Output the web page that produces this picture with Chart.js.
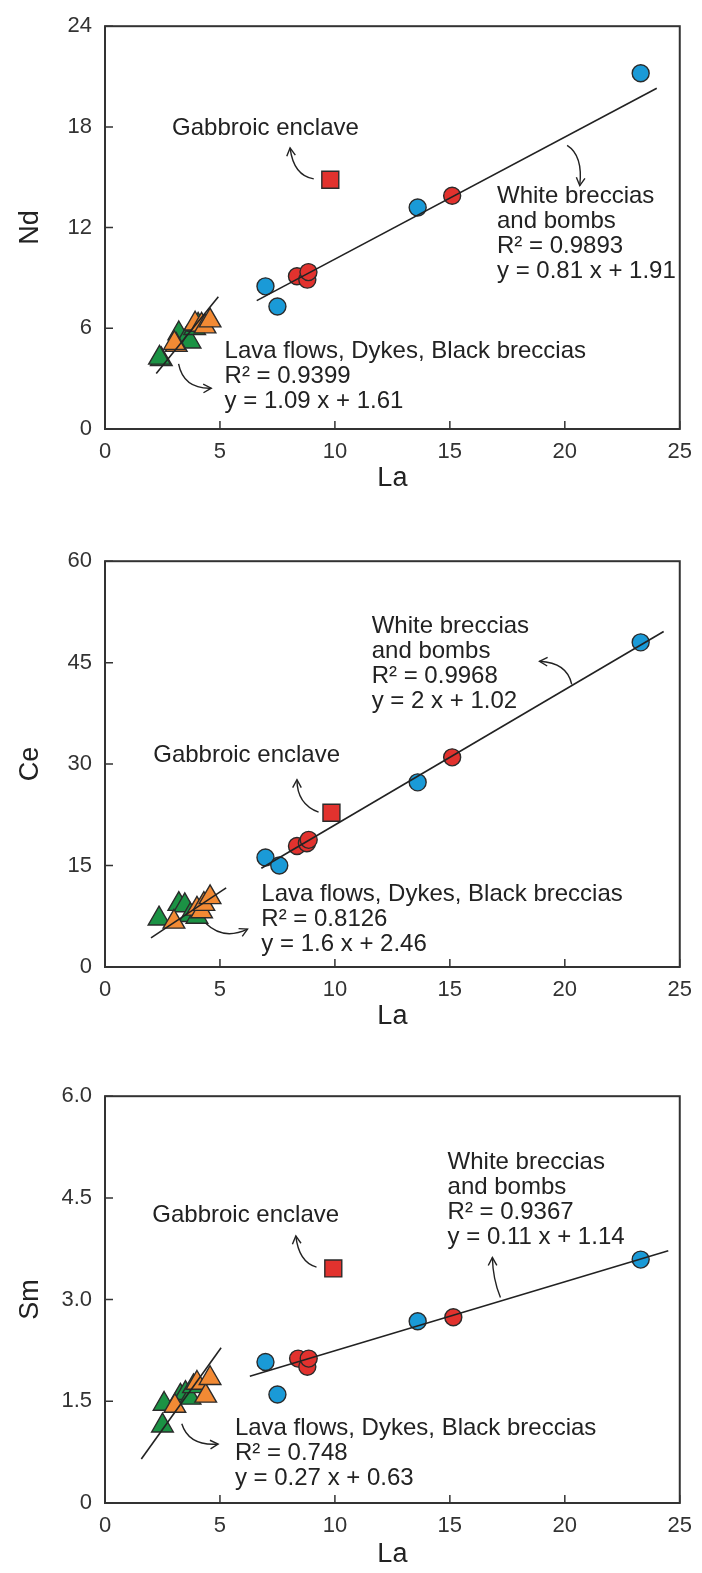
<!DOCTYPE html>
<html lang="en">
<head>
  <meta charset="UTF-8">
  <title>La vs Nd, Ce, Sm</title>
  <script src="https://cdn.jsdelivr.net/npm/chart.js"></script>
  <style>
    body { margin: 0; background: #fff; width: 702px; height: 1573px; position: relative; overflow: hidden; }
    .panel { position: absolute; left: 0; width: 702px; }
  </style>
</head>
<body>

<div class="panel" style="top:0;height:535px"><canvas id="chartNd"></canvas></div>
<div class="panel" style="top:535px;height:535px"><canvas id="chartCe"></canvas></div>
<div class="panel" style="top:1070px;height:503px"><canvas id="chartSm"></canvas></div>

<script>
  // ---- Nd vs La ----
  const ndBlueLa = [6.98, 7.5, 13.6, 23.3];
  const ndBlue = [8.5, 7.3, 13.2, 21.2];
  const ndRedLa = [8.35, 8.8, 8.85, 15.1];
  const ndRed = [9.1, 8.9, 9.35, 13.9];
  const ndSquareLa = [9.8];
  const ndSquare = [14.85];
  const ndGreenLa = [2.45, 2.37, 3.21, 3.55, 3.7, 3.9, 4.05];
  const ndGreen = [4.15, 4.24, 5.69, 5.4, 5.2, 6.0, 6.2];
  const ndOrangeLa = [3.1, 3.02, 3.92, 4.2, 4.35, 4.57];
  const ndOrange = [5.0, 5.11, 6.27, 6.2, 6.1, 6.46];
  const ndWhiteLine = [[6.6, 7.65], [24.0, 20.3]];
  const ndLavaLine = [[2.23, 3.3], [4.93, 7.88]];
  const ndTicks = [0, 6, 12, 18, 24];

  // ---- Ce vs La ----
  const ceBlueLa = [6.98, 7.58, 13.6, 23.3];
  const ceBlue = [16.2, 15.0, 27.3, 48.0];
  const ceRedLa = [8.35, 8.78, 8.86, 15.1];
  const ceRed = [17.9, 18.3, 18.8, 31.0];
  const ceSquareLa = [9.85];
  const ceSquare = [22.8];
  const ceGreenLa = [2.35, 3.21, 3.47, 3.71, 4.0];
  const ceGreen = [7.14, 9.3, 9.1, 7.65, 7.4];
  const ceOrangeLa = [3.0, 4.0, 4.2, 4.3, 4.57];
  const ceOrange = [6.67, 8.6, 8.2, 9.3, 10.3];
  const ceWhiteLine = [[6.8, 14.6], [24.3, 49.6]];
  const ceLavaLine = [[2.0, 4.3], [5.27, 11.7]];
  const ceTicks = [0, 15, 30, 45, 60];

  // ---- Sm vs La ----
  const smBlueLa = [6.98, 7.5, 13.6, 23.3];
  const smBlue = [2.08, 1.6, 2.68, 3.59];
  const smRedLa = [8.4, 8.8, 8.86, 15.15];
  const smRed = [2.13, 2.01, 2.13, 2.74];
  const smSquareLa = [9.93];
  const smSquare = [3.46];
  const smGreenLa = [2.5, 2.57, 3.28, 3.5, 3.7, 3.85];
  const smGreen = [1.14, 1.46, 1.58, 1.62, 1.55, 1.72];
  const smOrangeLa = [3.04, 4.0, 4.38, 4.57];
  const smOrange = [1.43, 1.77, 1.58, 1.84];
  const smWhiteLine = [[6.3, 1.87], [24.5, 3.72]];
  const smLavaLine = [[1.58, 0.65], [5.05, 2.29]];
  const smTicks = [0, 1.5, 3.0, 4.5, 6.0];

  const laTicks = [0, 5, 10, 15, 20, 25];

  const FONT = "'Liberation Sans', Arial, sans-serif";
  const INK = "#222";

  const pares = (xs, ys) => xs.map((x, i) => ({ x: x, y: ys[i] }));

  const puntos = (xs, ys, color, estilo, r) => ({
    data: pares(xs, ys),
    pointStyle: estilo,
    pointRadius: r,
    pointBackgroundColor: color,
    pointBorderColor: "#2b2b2b",
    pointBorderWidth: 1.4,
    showLine: false
  });

  const recta = (seg) => ({
    data: seg.map(p => ({ x: p[0], y: p[1] })),
    showLine: true,
    borderColor: INK,
    borderWidth: 1.6,
    pointRadius: 0
  });

  // frame, inward ticks, notes and arrows
  const marcoPlugin = {
    id: "marco",
    afterDraw(chart) {
      const { ctx, chartArea: a, scales } = chart;
      const xs = scales.x, ys = scales.y;
      const p = chart.options.plugins.marco;
      ctx.save();
      ctx.strokeStyle = "#333";
      ctx.lineWidth = 2;
      ctx.strokeRect(a.left, a.top, a.right - a.left, a.bottom - a.top);
      ctx.lineWidth = 1.5;
      ctx.beginPath();
      xs.ticks.forEach(t => {
        const px = xs.getPixelForValue(t.value);
        ctx.moveTo(px, a.bottom);
        ctx.lineTo(px, a.bottom - 8);
      });
      ys.ticks.forEach(t => {
        const py = ys.getPixelForValue(t.value);
        ctx.moveTo(a.left, py);
        ctx.lineTo(a.left + 8, py);
      });
      ctx.stroke();

      ctx.fillStyle = INK;
      ctx.font = "24px " + FONT;
      ctx.textBaseline = "middle";
      p.notas.forEach(n => {
        ctx.textAlign = n.align || "left";
        const x = xs.getPixelForValue(n.x);
        const y = ys.getPixelForValue(n.y);
        n.lines.forEach((txt, i) => ctx.fillText(txt, x, y + i * 25));
      });

      ctx.strokeStyle = INK;
      ctx.lineWidth = 1.4;
      p.flechas.forEach(f => {
        const x0 = xs.getPixelForValue(f.from[0]), y0 = ys.getPixelForValue(f.from[1]);
        const cx = xs.getPixelForValue(f.ctrl[0]), cy = ys.getPixelForValue(f.ctrl[1]);
        const x1 = xs.getPixelForValue(f.to[0]), y1 = ys.getPixelForValue(f.to[1]);
        ctx.beginPath();
        ctx.moveTo(x0, y0);
        ctx.quadraticCurveTo(cx, cy, x1, y1);
        ctx.stroke();
        const ang = Math.atan2(y1 - cy, x1 - cx);
        ctx.beginPath();
        ctx.moveTo(x1 - 9 * Math.cos(ang - 0.5), y1 - 9 * Math.sin(ang - 0.5));
        ctx.lineTo(x1, y1);
        ctx.lineTo(x1 - 9 * Math.cos(ang + 0.5), y1 - 9 * Math.sin(ang + 0.5));
        ctx.stroke();
      });
      ctx.restore();
    }
  };

  function crearGrafico(id, cfg) {
    return new Chart(document.getElementById(id), {
      type: "scatter",
      data: {
        datasets: [
          recta(cfg.whiteLine),
          recta(cfg.lavaLine),
          puntos(cfg.redLa, cfg.red, "#e2322e", "circle", 8.5),
          puntos(cfg.blueLa, cfg.blue, "#1a9ad7", "circle", 8.5),
          puntos(cfg.squareLa, cfg.square, "#e2322e", "rect", 12),
          puntos(cfg.orangeLa, cfg.orange, "#f28a34", "triangle", 12.5),
          puntos(cfg.greenLa, cfg.green, "#1b9244", "triangle", 12.5)
        ]
      },
      options: {
        responsive: true,
        maintainAspectRatio: false,
        animation: false,
        layout: { padding: { top: cfg.padTop, right: 13, left: 0, bottom: 0 } },
        plugins: {
          legend: { display: false },
          tooltip: { enabled: false },
          marco: { notas: cfg.notas, flechas: cfg.flechas }
        },
        scales: {
          x: {
            type: "linear",
            min: laTicks[0],
            max: laTicks[laTicks.length - 1],
            afterBuildTicks: s => { s.ticks = laTicks.map(v => ({ value: v })); },
            afterFit: s => { s.height = cfg.xHeight; },
            grid: { display: false, drawTicks: false },
            border: { display: false },
            ticks: { padding: 10, color: "#333", font: { size: 22, family: FONT } },
            title: {
              display: true, text: "La", color: INK,
              font: { size: 27, family: FONT },
              padding: { top: 0, bottom: cfg.xTitlePad }
            }
          },
          y: {
            type: "linear",
            min: cfg.ticks[0],
            max: cfg.ticks[cfg.ticks.length - 1],
            afterBuildTicks: s => { s.ticks = cfg.ticks.map(v => ({ value: v })); },
            afterFit: s => { s.width = 105; },
            grid: { display: false, drawTicks: false },
            border: { display: false },
            ticks: {
              padding: 13, color: "#333", font: { size: 22, family: FONT },
              callback: v => (v === 0 ? "0" : (cfg.decimals ? v.toFixed(1) : String(v)))
            },
            title: {
              display: true, text: cfg.yName, color: INK,
              font: { size: 27, family: FONT },
              padding: { top: 14, bottom: 0 }
            }
          }
        }
      },
      plugins: [marcoPlugin]
    });
  }

  crearGrafico("chartNd", {
    blueLa: ndBlueLa, blue: ndBlue, redLa: ndRedLa, red: ndRed,
    squareLa: ndSquareLa, square: ndSquare, greenLa: ndGreenLa, green: ndGreen,
    orangeLa: ndOrangeLa, orange: ndOrange, whiteLine: ndWhiteLine, lavaLine: ndLavaLine,
    ticks: ndTicks, yName: "Nd", decimals: false,
    padTop: 15, xHeight: 106, xTitlePad: 40,
    notas: [
      { x: 6.98, y: 17.9, align: "center", lines: ["Gabbroic enclave"] },
      { x: 17.05, y: 13.85, lines: ["White breccias", "and bombs", "R\u00B2 = 0.9893", "y = 0.81 x + 1.91"] },
      { x: 5.2, y: 4.64, lines: ["Lava flows, Dykes, Black breccias", "R\u00B2 = 0.9399", "y = 1.09 x + 1.61"] }
    ],
    flechas: [
      { from: [9.08, 14.9], ctrl: [8.2, 15.1], to: [8.05, 16.75] },
      { from: [20.1, 16.9], ctrl: [20.8, 16.3], to: [20.65, 14.5] },
      { from: [3.2, 3.88], ctrl: [3.42, 2.38], to: [4.62, 2.43] }
    ]
  });

  crearGrafico("chartCe", {
    blueLa: ceBlueLa, blue: ceBlue, redLa: ceRedLa, red: ceRed,
    squareLa: ceSquareLa, square: ceSquare, greenLa: ceGreenLa, green: ceGreen,
    orangeLa: ceOrangeLa, orange: ceOrange, whiteLine: ceWhiteLine, lavaLine: ceLavaLine,
    ticks: ceTicks, yName: "Ce", decimals: false,
    padTop: 15, xHeight: 103, xTitlePad: 37,
    notas: [
      { x: 6.16, y: 31.3, align: "center", lines: ["Gabbroic enclave"] },
      { x: 11.6, y: 50.3, lines: ["White breccias", "and bombs", "R\u00B2 = 0.9968", "y = 2 x + 1.02"] },
      { x: 6.8, y: 10.7, lines: ["Lava flows, Dykes, Black breccias", "R\u00B2 = 0.8126", "y = 1.6 x + 2.46"] }
    ],
    flechas: [
      { from: [9.29, 22.9], ctrl: [8.35, 24.1], to: [8.35, 27.7] },
      { from: [20.3, 41.8], ctrl: [20.1, 45.0], to: [18.9, 45.2] },
      { from: [4.37, 6.5], ctrl: [5.14, 3.9], to: [6.2, 5.6] }
    ]
  });

  crearGrafico("chartSm", {
    blueLa: smBlueLa, blue: smBlue, redLa: smRedLa, red: smRed,
    squareLa: smSquareLa, square: smSquare, greenLa: smGreenLa, green: smGreen,
    orangeLa: smOrangeLa, orange: smOrange, whiteLine: smWhiteLine, lavaLine: smLavaLine,
    ticks: smTicks, yName: "Sm", decimals: true,
    padTop: 19, xHeight: 70, xTitlePad: 2,
    notas: [
      { x: 6.12, y: 4.24, align: "center", lines: ["Gabbroic enclave"] },
      { x: 14.9, y: 5.03, lines: ["White breccias", "and bombs", "R\u00B2 = 0.9367", "y = 0.11 x + 1.14"] },
      { x: 5.65, y: 1.10, lines: ["Lava flows, Dykes, Black breccias", "R\u00B2 = 0.748", "y = 0.27 x + 0.63"] }
    ],
    flechas: [
      { from: [9.2, 3.48], ctrl: [8.43, 3.55], to: [8.3, 3.94] },
      { from: [17.2, 3.03], ctrl: [16.87, 3.3], to: [16.85, 3.62] },
      { from: [3.34, 1.17], ctrl: [3.64, 0.84], to: [4.92, 0.87] }
    ]
  });
</script>

</body>
</html>
